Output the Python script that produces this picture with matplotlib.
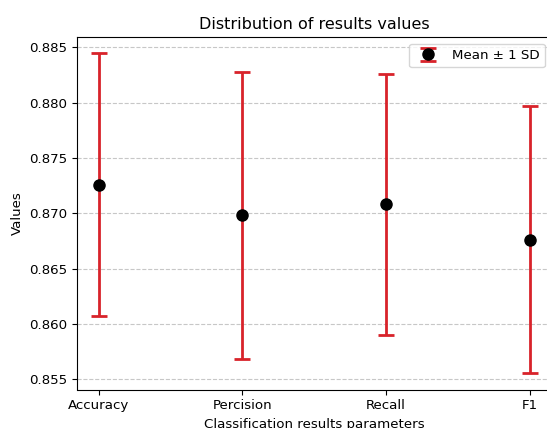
import matplotlib
matplotlib.use("Agg")
import matplotlib.pyplot as plt

categories = ["Accuracy", "Percision", "Recall", "F1"]
means = [0.8726, 0.8698, 0.8708, 0.8676]
sds = [0.0119, 0.0130, 0.0118, 0.0121]

plt.rcParams['font.size'] = 9.6

fig = plt.figure(figsize=(5.47, 4.28), dpi=100)
ax = fig.add_axes([77 / 547, 38.5 / 428, 474.5 / 547, 352.5 / 428])

ax.errorbar(categories, means, yerr=sds, fmt='o', color='black', ecolor='#d8232a',
            elinewidth=2, capsize=6, capthick=2, markersize=8, label='Mean ± 1 SD')
ax.set_title('Distribution of results values', fontsize=11.5)
ax.set_xlabel('Classification results parameters')
ax.set_ylabel('Values')
ax.grid(axis='y', linestyle='--', alpha=0.7)
ax.legend(loc='upper right')

fig.savefig('out.png', dpi=100)
